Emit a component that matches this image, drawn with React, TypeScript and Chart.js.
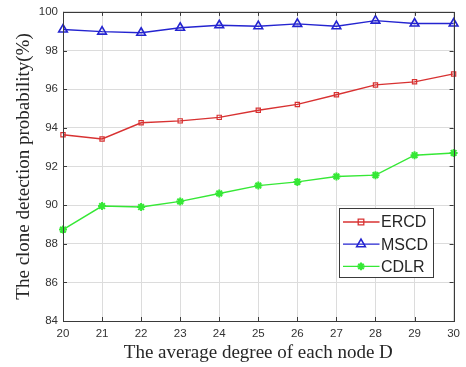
import React, { useEffect, useRef } from 'react';
import { Chart, registerables } from 'chart.js';

Chart.register(...registerables);

const categories = ['20', '21', '22', '23', '24', '25', '26', '27', '28', '29', '30'];
const ercd = [93.64, 93.42, 94.26, 94.36, 94.54, 94.91, 95.21, 95.71, 96.22, 96.38, 96.79];
const mscd = [99.09, 98.98, 98.92, 99.18, 99.31, 99.26, 99.38, 99.26, 99.55, 99.4, 99.4];
const cdlr = [88.73, 89.95, 89.9, 90.19, 90.6, 91.01, 91.2, 91.48, 91.55, 92.58, 92.7];
const yMin = 84;
const yMax = 100;
const yStep = 2;
const seriesNames = ['ERCD', 'MSCD', 'CDLR'];
const seriesColors = ['#d83232', '#2424d0', '#36e836'];
const xTitle = 'The average degree of each node D';
const yTitle = 'The clone detection probability(%)';

const SANS = "Arial, 'Liberation Sans', sans-serif";
const SERIF = "'Times New Roman', 'Liberation Serif', serif";
const FRAME = '#3a3a3a';

function drawMarker(ctx: CanvasRenderingContext2D, kind: number, x: number, y: number, color: string) {
  ctx.save();
  ctx.strokeStyle = color;
  ctx.fillStyle = color;
  ctx.lineWidth = 1.3;
  ctx.beginPath();
  if (kind === 0) {
    ctx.rect(x - 2.8, y - 2.8, 5.6, 5.6);
    ctx.stroke();
  } else if (kind === 1) {
    const r = 5;
    ctx.moveTo(x, y - r);
    ctx.lineTo(x + r * 0.866, y + r * 0.5);
    ctx.lineTo(x - r * 0.866, y + r * 0.5);
    ctx.closePath();
    ctx.lineWidth = 1.6;
    ctx.stroke();
  } else {
    const r = 3.8;
    ctx.lineWidth = 2;
    for (let i = 0; i < 4; i++) {
      const a = (Math.PI / 4) * i;
      ctx.moveTo(x - r * Math.cos(a), y - r * Math.sin(a));
      ctx.lineTo(x + r * Math.cos(a), y + r * Math.sin(a));
    }
    ctx.stroke();
  }
  ctx.restore();
}

const framePlugin = {
  id: 'frameAndLegend',
  afterDraw(chart: any) {
    const { ctx, chartArea: a } = chart;
    const xs = chart.scales.x;
    const ys = chart.scales.y;
    ctx.save();
    ctx.strokeStyle = FRAME;
    ctx.lineWidth = 1;
    ctx.strokeRect(Math.round(a.left) + 0.5, Math.round(a.top) + 0.5, Math.round(a.right - a.left), Math.round(a.bottom - a.top));
    const tl = 4;
    ctx.beginPath();
    xs.ticks.forEach((_t: any, i: number) => {
      const px = Math.round(xs.getPixelForTick(i)) + 0.5;
      ctx.moveTo(px, a.bottom);
      ctx.lineTo(px, a.bottom - tl);
      ctx.moveTo(px, a.top);
      ctx.lineTo(px, a.top + tl);
    });
    ys.ticks.forEach((_t: any, i: number) => {
      const py = Math.round(ys.getPixelForTick(i)) + 0.5;
      ctx.moveTo(a.left, py);
      ctx.lineTo(a.left + tl, py);
      ctx.moveTo(a.right, py);
      ctx.lineTo(a.right - tl, py);
    });
    ctx.stroke();

    const w = 94;
    const h = 69;
    const lx = Math.round(a.right - 20.5 - w) + 0.5;
    const ly = Math.round(a.bottom - 44.5 - h) + 0.5;
    ctx.fillStyle = '#ffffff';
    ctx.fillRect(lx, ly, w, h);
    ctx.strokeStyle = FRAME;
    ctx.lineWidth = 1;
    ctx.strokeRect(lx, ly, w, h);
    ctx.font = `16px ${SANS}`;
    ctx.textBaseline = 'middle';
    ctx.textAlign = 'left';
    seriesNames.forEach((name, i) => {
      const ry = ly + 13.5 + i * 22.2;
      ctx.strokeStyle = seriesColors[i];
      ctx.lineWidth = 1.3;
      ctx.beginPath();
      ctx.moveTo(lx + 3.5, ry);
      ctx.lineTo(lx + 40, ry);
      ctx.stroke();
      drawMarker(ctx, i, lx + 21.5, ry, seriesColors[i]);
      ctx.fillStyle = '#262626';
      ctx.fillText(name, lx + 41.5, ry + 1);
    });
    ctx.restore();
  },
};

export default function App() {
  const ref = useRef<HTMLCanvasElement | null>(null);

  useEffect(() => {
    if (!ref.current) return;
    const chart = new Chart(ref.current, {
      type: 'line',
      data: {
        labels: categories,
        datasets: [
          {
            label: seriesNames[0],
            data: ercd,
            borderColor: seriesColors[0],
            backgroundColor: 'rgba(0,0,0,0)',
            borderWidth: 1.4,
            pointStyle: 'rect',
            pointRadius: 3,
            pointBorderWidth: 1.2,
            pointBorderColor: seriesColors[0],
            pointBackgroundColor: 'rgba(0,0,0,0)',
            tension: 0,
          },
          {
            label: seriesNames[1],
            data: mscd,
            borderColor: seriesColors[1],
            backgroundColor: 'rgba(0,0,0,0)',
            borderWidth: 1.4,
            pointStyle: 'triangle',
            pointRadius: 5,
            pointBorderWidth: 1.6,
            pointBorderColor: seriesColors[1],
            pointBackgroundColor: 'rgba(0,0,0,0)',
            tension: 0,
          },
          {
            label: seriesNames[2],
            data: cdlr,
            borderColor: seriesColors[2],
            backgroundColor: seriesColors[2],
            borderWidth: 1.4,
            pointStyle: 'star',
            pointRadius: 4,
            pointBorderWidth: 2,
            pointBorderColor: seriesColors[2],
            pointBackgroundColor: seriesColors[2],
            tension: 0,
          },
        ],
      },
      options: {
        animation: false,
        responsive: false,
        maintainAspectRatio: false,
        layout: { padding: { left: 0, top: 10, right: 9, bottom: 0 } },
        plugins: {
          legend: { display: false },
          tooltip: { enabled: false },
        },
        scales: {
          x: {
            type: 'category',
            offset: false,
            grid: { color: '#dcdcdc', drawTicks: false, lineWidth: 1 },
            border: { display: false },
            ticks: { color: '#333333', font: { family: SANS, size: 11.5 }, padding: 6, maxRotation: 0, autoSkip: false },
            title: {
              display: true,
              text: xTitle,
              color: '#262626',
              font: { family: SERIF, size: 19 },
              padding: { top: 0, bottom: 2.5 },
            },
            afterFit: (s: any) => {
              s.height = 46;
            },
          },
          y: {
            min: yMin,
            max: yMax,
            grid: { color: '#dcdcdc', drawTicks: false, lineWidth: 1 },
            border: { display: false },
            ticks: { stepSize: yStep, color: '#333333', font: { family: SANS, size: 11.5 }, padding: 5 },
            title: {
              display: true,
              text: yTitle,
              color: '#262626',
              font: { family: SERIF, size: 19 },
              padding: { top: 13, bottom: 0 },
            },
            afterFit: (s: any) => {
              s.width = 63;
            },
          },
        },
      },
      plugins: [framePlugin],
    });
    return () => chart.destroy();
  }, []);

  return (
    <div style={{ position: 'absolute', left: 0, top: 0, width: 466, height: 367, background: '#fff' }}>
      <canvas ref={ref} width={466} height={367} style={{ width: 466, height: 367, display: 'block' }} />
    </div>
  );
}
